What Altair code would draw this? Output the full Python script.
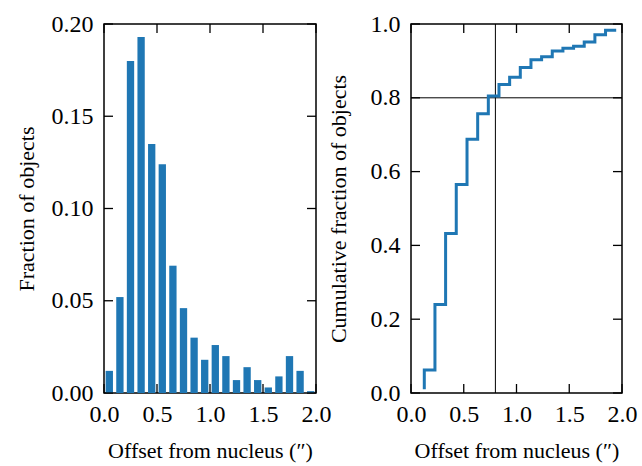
import altair as alt
import pandas as pd

# ---- data ----
bin_lo = [0.0, 0.1, 0.2, 0.3, 0.4, 0.5, 0.6, 0.7, 0.8, 0.9,
          1.0, 1.1, 1.2, 1.3, 1.4, 1.5, 1.6, 1.7, 1.8, 1.9]
bin_hi = [0.1, 0.2, 0.3, 0.4, 0.5, 0.6, 0.7, 0.8, 0.9, 1.0,
          1.1, 1.2, 1.3, 1.4, 1.5, 1.6, 1.7, 1.8, 1.9, 2.0]
fraction = [0.012, 0.052, 0.180, 0.193, 0.135, 0.124, 0.069, 0.046, 0.030, 0.018,
            0.026, 0.020, 0.007, 0.014, 0.007, 0.003, 0.009, 0.020, 0.012, 0.001]

cum_x = [0.126, 0.227, 0.328, 0.429, 0.531, 0.632, 0.733, 0.834, 0.935, 1.036,
         1.137, 1.238, 1.339, 1.440, 1.541, 1.642, 1.743, 1.844, 1.945]
cum_y = [0.010, 0.062, 0.240, 0.432, 0.565, 0.688, 0.757, 0.805, 0.836, 0.856,
         0.882, 0.903, 0.911, 0.927, 0.934, 0.940, 0.951, 0.971, 0.983]

x_ticks = [0.0, 0.5, 1.0, 1.5, 2.0]
left_y_ticks = [0.0, 0.05, 0.10, 0.15, 0.20]
right_y_ticks = [0.0, 0.2, 0.4, 0.6, 0.8, 1.0]
ref_x = [0.8]
ref_y = [0.8]

x_title = "Offset from nucleus (\u2033)"

# ---- layout / style ----
W, H = 212, 369
TICK = 9
BLUE = "#1f77b4"
FONT = "Liberation Serif"

hist_df = pd.DataFrame({"lo": bin_lo, "hi": bin_hi, "frac": fraction})
cum_df = pd.DataFrame({"x": cum_x, "y": cum_y})
xt_df = pd.DataFrame({"t": x_ticks})
lyt_df = pd.DataFrame({"t": left_y_ticks})
ryt_df = pd.DataFrame({"t": right_y_ticks})

xscale = alt.Scale(domain=[0, 2], nice=False, zero=False)
lyscale = alt.Scale(domain=[0, 0.2], nice=False)
ryscale = alt.Scale(domain=[0, 1.0], nice=False)

xaxis = alt.Axis(title=x_title, values=x_ticks, format=".1f", labelFlush=False,
                 labelPadding=9, titlePadding=14)
lyaxis = alt.Axis(title="Fraction of objects", values=left_y_ticks, format=".2f",
                  labelFlush=False, labelPadding=11, titlePadding=13)
ryaxis = alt.Axis(title="Cumulative fraction of objects", values=right_y_ticks,
                  format=".1f", labelFlush=False, labelPadding=11, titlePadding=20)


def tick_layers(ydf, yscale, yaxis, w):
    bottom = alt.Chart(xt_df).mark_rule(color="black", strokeWidth=1.3).encode(
        x=alt.X("t:Q", scale=xscale, axis=xaxis),
        y=alt.value(H), y2=alt.value(H - TICK))
    top = alt.Chart(xt_df).mark_rule(color="black", strokeWidth=1.3).encode(
        x=alt.X("t:Q", scale=xscale, axis=xaxis),
        y=alt.value(0), y2=alt.value(TICK))
    left = alt.Chart(ydf).mark_rule(color="black", strokeWidth=1.3).encode(
        y=alt.Y("t:Q", scale=yscale, axis=yaxis),
        x=alt.value(0), x2=alt.value(TICK))
    right = alt.Chart(ydf).mark_rule(color="black", strokeWidth=1.3).encode(
        y=alt.Y("t:Q", scale=yscale, axis=yaxis),
        x=alt.value(w - TICK), x2=alt.value(w))
    return [bottom, top, left, right]


bars = alt.Chart(hist_df).transform_calculate(
    x0="datum.lo + 0.0155", x1="datum.hi - 0.0155"
).mark_bar(color=BLUE).encode(
    x=alt.X("x0:Q", scale=xscale, axis=xaxis),
    x2="x1:Q",
    y=alt.Y("frac:Q", scale=lyscale, axis=lyaxis),
    y2=alt.datum(0),
)

left_panel = alt.layer(bars, *tick_layers(lyt_df, lyscale, lyaxis, W)).properties(
    width=W, height=H)

vline = alt.Chart(pd.DataFrame({"v": ref_x})).mark_rule(color="black", strokeWidth=1).encode(
    x=alt.X("v:Q", scale=xscale, axis=xaxis))
hline = alt.Chart(pd.DataFrame({"v": ref_y})).mark_rule(color="black", strokeWidth=1).encode(
    y=alt.Y("v:Q", scale=ryscale, axis=ryaxis))
step = alt.Chart(cum_df).mark_line(color=BLUE, strokeWidth=3, interpolate="step-before").encode(
    x=alt.X("x:Q", scale=xscale, axis=xaxis),
    y=alt.Y("y:Q", scale=ryscale, axis=ryaxis),
)

right_panel = alt.layer(vline, hline, step, *tick_layers(ryt_df, ryscale, ryaxis, W - 1)).properties(
    width=W - 1, height=H)

chart = alt.hconcat(left_panel, right_panel, spacing=95, bounds="flush").properties(
    padding={"left": 14, "top": 11, "right": 4, "bottom": 2},
    background="white",
).configure_view(
    stroke="black", strokeWidth=1.5
).configure_axis(
    labelFont=FONT, titleFont=FONT, labelFontSize=24, titleFontSize=22,
    titleFontWeight="normal", labelColor="black", titleColor="black",
    ticks=False, domain=False, grid=False,
)

chart.save("out.html", embed_options={"renderer": "svg", "actions": False})
